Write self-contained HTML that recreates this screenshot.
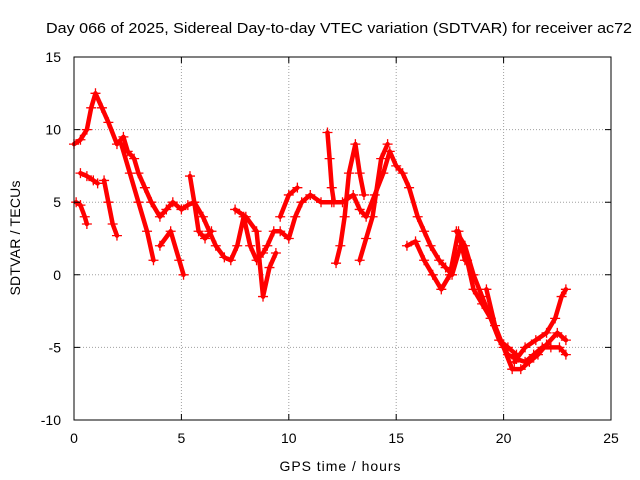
<!DOCTYPE html>
<html><head><meta charset="utf-8"><style>
body{margin:0;background:#fff;}
svg{display:block;font-family:"Liberation Sans",sans-serif;}
</style></head><body>
<svg id="chart" width="640" height="480" viewBox="0 0 640 480">
<rect width="640" height="480" fill="#fff"/>
<text x="339" y="33" font-size="15" text-anchor="middle" textLength="586" lengthAdjust="spacingAndGlyphs">Day 066 of 2025, Sidereal Day-to-day VTEC variation (SDTVAR) for receiver ac72</text>
<g id="grid"></g>
<g id="marks"></g>
<rect x="74" y="57" width="537" height="363" fill="none" stroke="#000"/>
<g id="axes"></g>
<text x="340" y="471" font-size="14" text-anchor="middle" textLength="121">GPS time / hours</text>
<text x="0" y="0" font-size="14" text-anchor="middle" textLength="115" transform="translate(20,238) rotate(-90)">SDTVAR / TECUs</text>
</svg>
<script>
const xTicks=[0,5,10,15,20,25];
const yTicks=[-10,-5,0,5,10,15];
const trackMain=[[0,9],[0.3,9.3],[0.6,10],[0.8,11.5],[1,12.5],[1.3,11.5],[1.6,10.5],[2,9],[2.3,9.5],[2.5,8.5],[2.8,8],[3,7],[3.3,6],[3.6,5],[4,4],[4.3,4.5],[4.6,5],[5,4.5],[5.3,4.8],[5.6,5],[6,4],[6.3,3],[6.6,2],[7,1.2],[7.3,1],[7.6,2],[7.9,4],[8.2,2],[8.5,1],[8.8,1.5],[9,2],[9.3,3],[9.6,3],[10,2.5],[10.3,4],[10.6,5],[11,5.5],[11.5,5],[12,5],[12.5,5],[13,5.5],[13.3,4.5],[13.6,4],[14,5.5],[14.4,7],[14.7,8.5],[15,7.5],[15.3,7],[15.6,6],[16,4],[16.3,3],[16.6,2],[17,1],[17.3,0.5],[17.6,0],[18,2],[18.3,1],[18.6,-1],[19,-2],[19.4,-3],[19.8,-4.5],[20.2,-5.5],[20.6,-5.8],[21,-6],[21.4,-5.5],[21.8,-5],[22.2,-5],[22.6,-5],[22.9,-5.5]];
const trackB=[[0.1,5],[0.3,4.8],[0.5,4],[0.6,3.5]];
const trackC=[[0.3,7],[0.6,6.8],[0.9,6.5],[1.1,6.3]];
const trackD=[[1.4,6.5],[1.6,5],[1.8,3.5],[2,2.7]];
const trackE=[[2.2,9],[2.6,7],[3,5],[3.4,3],[3.7,1]];
const trackF=[[4,2],[4.5,3],[4.9,1],[5.1,0]];
const trackG=[[5.4,6.8],[5.6,5],[5.8,3],[6.1,2.5],[6.4,3]];
const trackH=[[7.5,4.5],[8,4],[8.5,3],[8.8,-1.5],[9.1,0.5],[9.4,1.5]];
const trackI=[[9.6,4],[10,5.5],[10.4,6]];
const trackJ=[[11.8,9.8],[11.9,8],[12,6],[12.1,5]];
const trackK=[[12.2,0.8],[12.4,2],[12.6,4],[12.8,7],[13.1,9],[13.3,7],[13.5,5.5]];
const trackL=[[13.3,1],[13.6,2.5],[13.9,4],[14.3,8],[14.6,9]];
const trackM=[[15.5,2],[15.9,2.3],[16.3,1],[16.7,0],[17.1,-1],[17.5,0],[17.9,3],[18.2,1]];
const trackN=[[17.8,3],[18.2,2],[18.6,0],[19,-1.5],[19.4,-3],[19.8,-4.5],[20.2,-5],[20.6,-5.5]];
const trackO=[[20.5,-6],[21,-5],[21.5,-4.5],[22,-4],[22.4,-3],[22.7,-1.5],[22.9,-1]];
const trackP=[[19.2,-1],[19.6,-3.5],[20,-5],[20.4,-6.5],[20.8,-6.5],[21.2,-6],[21.6,-5.5],[22,-4.8],[22.5,-4],[22.9,-4.5]];
const tracks=[trackMain,trackB,trackC,trackD,trackE,trackF,trackG,trackH,trackI,trackJ,trackK,trackL,trackM,trackN,trackO,trackP];
const X=v=>74+v*537/25, Y=v=>420-(v+10)*363/25;
const NS="http://www.w3.org/2000/svg";
const grid=document.getElementById('grid'),axes=document.getElementById('axes'),marks=document.getElementById('marks');
function mk(t,a,p){const e=document.createElementNS(NS,t);for(const k in a)e.setAttribute(k,a[k]);p.appendChild(e);return e;}
xTicks.forEach(t=>{const x=X(t);
 if(t>0&&t<25){const g=mk('line',{x1:x,y1:57,x2:x,y2:420,stroke:'#a0a0a0','stroke-dasharray':'1,2'},grid);}
 const tk=mk('path',{d:`M${x},420v-6M${x},57v6`,stroke:'#000'},axes);
 const l=mk('text',{x:x,y:443,'font-size':14,'text-anchor':'middle'},axes);l.textContent=t;});
yTicks.forEach(t=>{const y=Y(t);
 if(t>-10&&t<15){const g=mk('line',{x1:74,y1:y,x2:611,y2:y,stroke:'#a0a0a0','stroke-dasharray':'1,2'},grid);}
 const tk=mk('path',{d:`M74,${y}h6M611,${y}h-6`,stroke:'#000'},axes);
 const l=mk('text',{x:61,y:y+5,'font-size':14,'text-anchor':'end'},axes);l.textContent=t;});
tracks.forEach(tr=>{
 const pl=mk('polyline',{points:tr.map(p=>X(p[0])+','+Y(p[1])).join(' '),fill:'none',stroke:'#ff0000','stroke-width':4.5,'stroke-linejoin':'round','stroke-linecap':'round'},marks);
 
 tr.forEach(p=>{const x=X(p[0]),y=Y(p[1]);
  const m=mk('path',{d:`M${x-5},${y}h10M${x},${y-5}v10`,stroke:'#ff0000','stroke-width':1.3},marks);
  });
});
</script>
</body></html>
